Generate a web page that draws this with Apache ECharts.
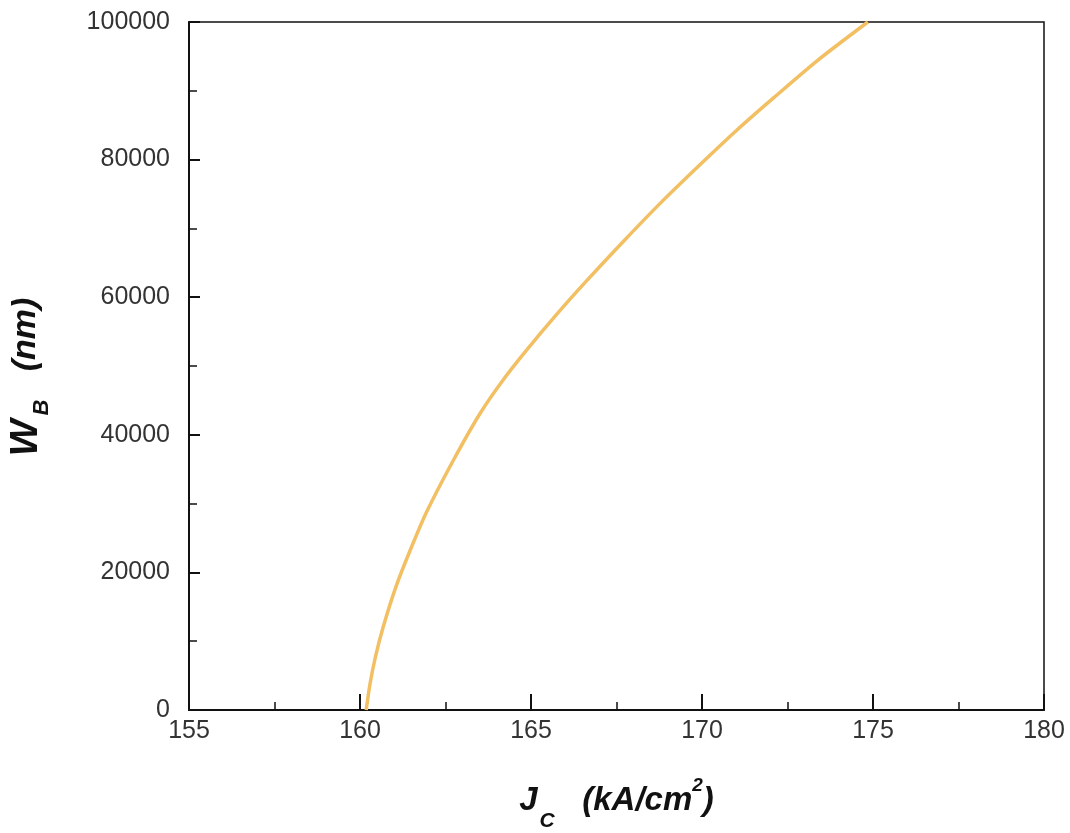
<!DOCTYPE html>
<html>
<head>
<meta charset="utf-8">
<script src="https://cdn.jsdelivr.net/npm/echarts@6/dist/echarts.min.js"></script>
<style>
  html, body { margin: 0; padding: 0; background: #fff; }
  #chart { width: 1070px; height: 833px; }
</style>
</head>
<body>
<div id="chart"></div>
<script>
// values
var jc = [160.18, 160.3, 160.45, 160.68, 161.05, 161.45, 161.95, 162.73, 163.51, 164.19,
  164.87, 165.75, 166.63, 167.7, 168.77, 170.1, 171.0, 172.1, 173.4, 174.85];
var wb = [0, 4000, 7700, 12100, 17900, 23000, 28800, 36300, 43100, 48000,
  52300, 57500, 62400, 68100, 73600, 80000, 84200, 89000, 94500, 100000];

var data = [];
for (var i = 0; i < jc.length; i++) {
  data.push([jc[i], wb[i]]);
}

var chart = echarts.init(document.getElementById("chart"));
var titleFont = "Liberation Sans";
var tickFont = "Liberation Sans";

function titleStyle(size) {
  return { fontSize: size, fontWeight: "bold", fontStyle: "italic", fontFamily: titleFont, color: "#111", lineHeight: 46 };
}

chart.setOption({
  animation: false,
  grid: {
    left: 189,
    right: 26,
    top: 22,
    bottom: 123,
    outerBoundsMode: "none",
    containLabel: false,
    show: true,
    borderColor: "#111",
    borderWidth: 1.5
  },
  xAxis: {
    type: "value",
    min: 155,
    max: 180,
    interval: 5,
    name: "{a|J}{b|C}{a|   (kA/cm}{d|2}{a|)}",
    nameLocation: "middle",
    nameGap: 68,
    nameTextStyle: {
      rich: {
        a: titleStyle(33),
        b: { fontSize: 21, fontWeight: "bold", fontStyle: "italic", fontFamily: titleFont, color: "#111", verticalAlign: "bottom", padding: [0, 0, -8, 2] },
        d: { fontSize: 19, fontWeight: "bold", fontStyle: "italic", fontFamily: titleFont, color: "#111", verticalAlign: "top", padding: [-2, 0, 0, 0] }
      }
    },
    axisLine: { lineStyle: { color: "#111", width: 2 } },
    axisTick: { inside: true, length: 16, lineStyle: { color: "#111", width: 2 } },
    minorTick: { show: true, splitNumber: 2, length: 8, lineStyle: { color: "#111", width: 1.5 } },
    splitLine: { show: false },
    axisLabel: { fontSize: 25, color: "#333", fontFamily: tickFont, margin: 9 }
  },
  yAxis: {
    type: "value",
    min: 0,
    max: 100000,
    interval: 20000,
    name: "{a|W}{b|B}{c|   (nm)}",
    nameLocation: "middle",
    nameGap: 140,
    nameRotate: 90,
    nameTextStyle: {
      padding: [0, 22, 0, 0],
      rich: {
        a: titleStyle(39),
        b: { fontSize: 22, fontWeight: "bold", fontStyle: "italic", fontFamily: titleFont, color: "#111", verticalAlign: "bottom", padding: [0, 0, -4, 4] },
        c: titleStyle(34)
      }
    },
    axisLine: { lineStyle: { color: "#111", width: 2 } },
    axisTick: { inside: true, length: 11, lineStyle: { color: "#111", width: 2 } },
    minorTick: { show: true, splitNumber: 2, length: 8, lineStyle: { color: "#111", width: 1.5 } },
    splitLine: { show: false },
    axisLabel: {
      fontSize: 25,
      color: "#333",
      fontFamily: tickFont,
      margin: 19,
      formatter: function (v) { return String(v); }
    }
  },
  series: [
    {
      type: "line",
      data: data,
      smooth: 0.25,
      showSymbol: false,
      lineStyle: { color: "#F2BF63", width: 3.5 }
    }
  ]
});
</script>
</body>
</html>
